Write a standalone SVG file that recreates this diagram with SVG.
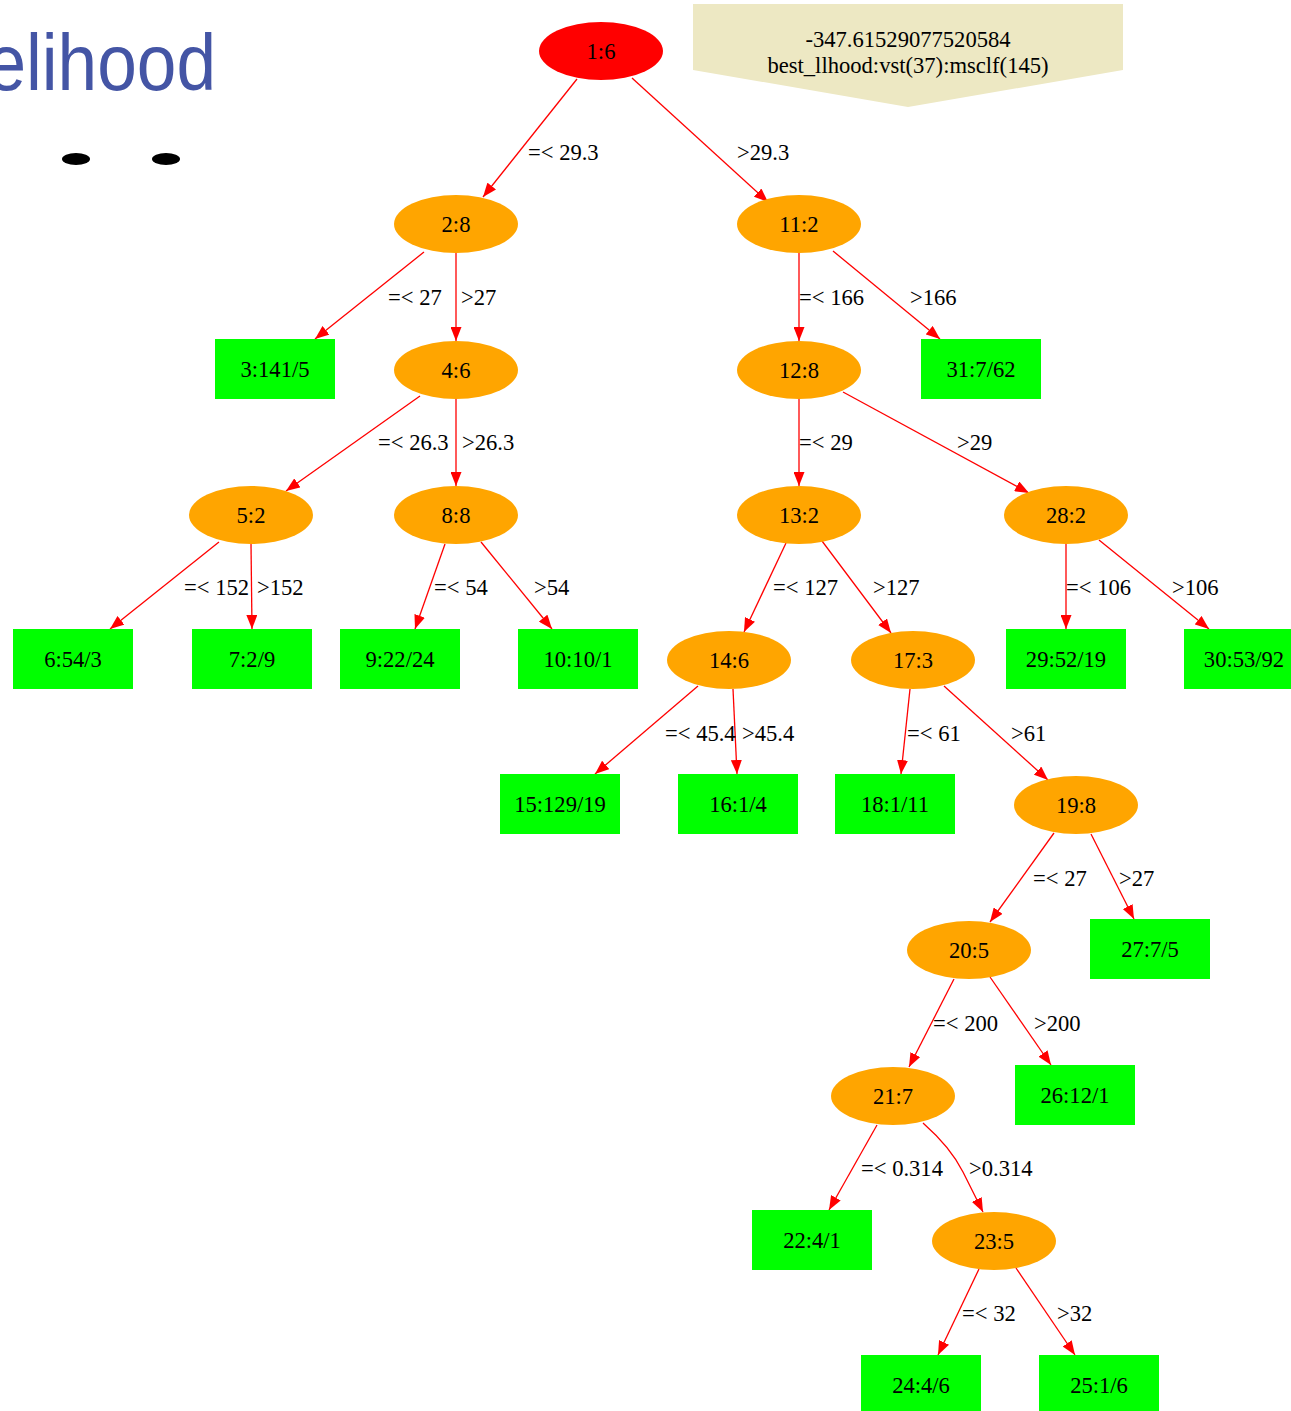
<svg xmlns="http://www.w3.org/2000/svg" width="1291" height="1411" viewBox="0 0 1291 1411">
<defs>
<marker id="ah" markerUnits="userSpaceOnUse" markerWidth="14" markerHeight="11" refX="14" refY="5.5" orient="auto">
<path d="M0,0 L14,5.5 L0,11 z" fill="#ff0000"/>
</marker>
</defs>
<style>
.t{font-family:"Liberation Serif","Times New Roman",serif;font-size:22.6px;fill:#000}
.c{text-anchor:middle}
.e{stroke:#ff0000;stroke-width:1.3;fill:none;marker-end:url(#ah)}
.on{fill:#ffa500}
.lf{fill:#00ff00}
</style>
<rect width="1291" height="1411" fill="#ffffff"/>
<text transform="translate(216,90) scale(0.89,1)" text-anchor="end" font-family="Liberation Sans, Arial, sans-serif" font-size="80" fill="#4455a5">elihood</text>
<ellipse cx="76" cy="159" rx="14" ry="6" fill="#000"/>
<ellipse cx="166" cy="159" rx="14" ry="6" fill="#000"/>
<g id="note">
<polygon points="693,4 1123,4 1123,70 908,107 693,70" fill="#ede8c3"/>
<text class="t c" x="908" y="47">-347.61529077520584</text>
<text class="t c" x="908" y="73">best_llhood:vst(37):msclf(145)</text>
</g>
<g id="edges">
<path class="e" d="M577,79 L483,197"/>
<path class="e" d="M632,78 L768,202"/>
<path class="e" d="M424,252 L315,339"/>
<path class="e" d="M456,253 L456,341"/>
<path class="e" d="M799,253 L799,341"/>
<path class="e" d="M833,251 L940,339"/>
<path class="e" d="M420,396 L286,491"/>
<path class="e" d="M456,399 L456,486"/>
<path class="e" d="M799,399 L799,486"/>
<path class="e" d="M843,392 L1029,493"/>
<path class="e" d="M219,542 L110,629"/>
<path class="e" d="M251,544 L252,629"/>
<path class="e" d="M445,544 L415,629"/>
<path class="e" d="M481,542 L552,629"/>
<path class="e" d="M786,543 L744,632"/>
<path class="e" d="M822,541 L891,633"/>
<path class="e" d="M1066,544 L1066,629"/>
<path class="e" d="M1099,540 L1209,629"/>
<path class="e" d="M698,686 L595,774"/>
<path class="e" d="M733,689 L737,774"/>
<path class="e" d="M910,689 L901,774"/>
<path class="e" d="M944,686 L1048,780"/>
<path class="e" d="M1054,833 L990,922"/>
<path class="e" d="M1091,834 L1134,919"/>
<path class="e" d="M954,979 L909,1067"/>
<path class="e" d="M990,977 L1051,1065"/>
<path class="e" d="M877,1125 L829,1210"/>
<path class="e" d="M923,1123 C940,1138 953,1152 963,1172 L983,1212"/>
<path class="e" d="M979,1269 L938,1355"/>
<path class="e" d="M1016,1268 L1075,1355"/>
<text class="t" x="528" y="160">=&lt; 29.3</text>
<text class="t" x="737" y="160">&gt;29.3</text>
<text class="t" x="388" y="305">=&lt; 27</text>
<text class="t" x="461" y="305">&gt;27</text>
<text class="t" x="799" y="305">=&lt; 166</text>
<text class="t" x="910" y="305">&gt;166</text>
<text class="t" x="378" y="450">=&lt; 26.3</text>
<text class="t" x="462" y="450">&gt;26.3</text>
<text class="t" x="799" y="450">=&lt; 29</text>
<text class="t" x="957" y="450">&gt;29</text>
<text class="t" x="184" y="595">=&lt; 152</text>
<text class="t" x="257" y="595">&gt;152</text>
<text class="t" x="434" y="595">=&lt; 54</text>
<text class="t" x="534" y="595">&gt;54</text>
<text class="t" x="773" y="595">=&lt; 127</text>
<text class="t" x="873" y="595">&gt;127</text>
<text class="t" x="1066" y="595">=&lt; 106</text>
<text class="t" x="1172" y="595">&gt;106</text>
<text class="t" x="665" y="741">=&lt; 45.4</text>
<text class="t" x="742" y="741">&gt;45.4</text>
<text class="t" x="907" y="741">=&lt; 61</text>
<text class="t" x="1011" y="741">&gt;61</text>
<text class="t" x="1033" y="886">=&lt; 27</text>
<text class="t" x="1119" y="886">&gt;27</text>
<text class="t" x="933" y="1031">=&lt; 200</text>
<text class="t" x="1034" y="1031">&gt;200</text>
<text class="t" x="861" y="1176">=&lt; 0.314</text>
<text class="t" x="969" y="1176">&gt;0.314</text>
<text class="t" x="962" y="1321">=&lt; 32</text>
<text class="t" x="1057" y="1321">&gt;32</text>
</g>
<g id="n1"><ellipse cx="601" cy="51" rx="62" ry="29" fill="#ff0000"/><text class="t c" x="601" y="59">1:6</text></g>
<g id="n2"><ellipse class="on" cx="456" cy="224" rx="62" ry="29"/><text class="t c" x="456" y="232">2:8</text></g>
<g id="n11"><ellipse class="on" cx="799" cy="224" rx="62" ry="29"/><text class="t c" x="799" y="232">11:2</text></g>
<g id="n3"><rect class="lf" x="215" y="339" width="120" height="60"/><text class="t c" x="275" y="377">3:141/5</text></g>
<g id="n4"><ellipse class="on" cx="456" cy="370" rx="62" ry="29"/><text class="t c" x="456" y="378">4:6</text></g>
<g id="n12"><ellipse class="on" cx="799" cy="370" rx="62" ry="29"/><text class="t c" x="799" y="378">12:8</text></g>
<g id="n31"><rect class="lf" x="921" y="339" width="120" height="60"/><text class="t c" x="981" y="377">31:7/62</text></g>
<g id="n5"><ellipse class="on" cx="251" cy="515" rx="62" ry="29"/><text class="t c" x="251" y="523">5:2</text></g>
<g id="n8"><ellipse class="on" cx="456" cy="515" rx="62" ry="29"/><text class="t c" x="456" y="523">8:8</text></g>
<g id="n13"><ellipse class="on" cx="799" cy="515" rx="62" ry="29"/><text class="t c" x="799" y="523">13:2</text></g>
<g id="n28"><ellipse class="on" cx="1066" cy="515" rx="62" ry="29"/><text class="t c" x="1066" y="523">28:2</text></g>
<g id="n6"><rect class="lf" x="13" y="629" width="120" height="60"/><text class="t c" x="73" y="667">6:54/3</text></g>
<g id="n7"><rect class="lf" x="192" y="629" width="120" height="60"/><text class="t c" x="252" y="667">7:2/9</text></g>
<g id="n9"><rect class="lf" x="340" y="629" width="120" height="60"/><text class="t c" x="400" y="667">9:22/24</text></g>
<g id="n10"><rect class="lf" x="518" y="629" width="120" height="60"/><text class="t c" x="578" y="667">10:10/1</text></g>
<g id="n14"><ellipse class="on" cx="729" cy="660" rx="62" ry="29"/><text class="t c" x="729" y="668">14:6</text></g>
<g id="n17"><ellipse class="on" cx="913" cy="660" rx="62" ry="29"/><text class="t c" x="913" y="668">17:3</text></g>
<g id="n29"><rect class="lf" x="1006" y="629" width="120" height="60"/><text class="t c" x="1066" y="667">29:52/19</text></g>
<g id="n30"><rect class="lf" x="1184" y="629" width="120" height="60"/><text class="t c" x="1244" y="667">30:53/92</text></g>
<g id="n15"><rect class="lf" x="500" y="774" width="120" height="60"/><text class="t c" x="560" y="812">15:129/19</text></g>
<g id="n16"><rect class="lf" x="678" y="774" width="120" height="60"/><text class="t c" x="738" y="812">16:1/4</text></g>
<g id="n18"><rect class="lf" x="835" y="774" width="120" height="60"/><text class="t c" x="895" y="812">18:1/11</text></g>
<g id="n19"><ellipse class="on" cx="1076" cy="805" rx="62" ry="29"/><text class="t c" x="1076" y="813">19:8</text></g>
<g id="n20"><ellipse class="on" cx="969" cy="950" rx="62" ry="29"/><text class="t c" x="969" y="958">20:5</text></g>
<g id="n27"><rect class="lf" x="1090" y="919" width="120" height="60"/><text class="t c" x="1150" y="957">27:7/5</text></g>
<g id="n21"><ellipse class="on" cx="893" cy="1096" rx="62" ry="29"/><text class="t c" x="893" y="1104">21:7</text></g>
<g id="n26"><rect class="lf" x="1015" y="1065" width="120" height="60"/><text class="t c" x="1075" y="1103">26:12/1</text></g>
<g id="n22"><rect class="lf" x="752" y="1210" width="120" height="60"/><text class="t c" x="812" y="1248">22:4/1</text></g>
<g id="n23"><ellipse class="on" cx="994" cy="1241" rx="62" ry="29"/><text class="t c" x="994" y="1249">23:5</text></g>
<g id="n24"><rect class="lf" x="861" y="1355" width="120" height="60"/><text class="t c" x="921" y="1393">24:4/6</text></g>
<g id="n25"><rect class="lf" x="1039" y="1355" width="120" height="60"/><text class="t c" x="1099" y="1393">25:1/6</text></g>
</svg>
